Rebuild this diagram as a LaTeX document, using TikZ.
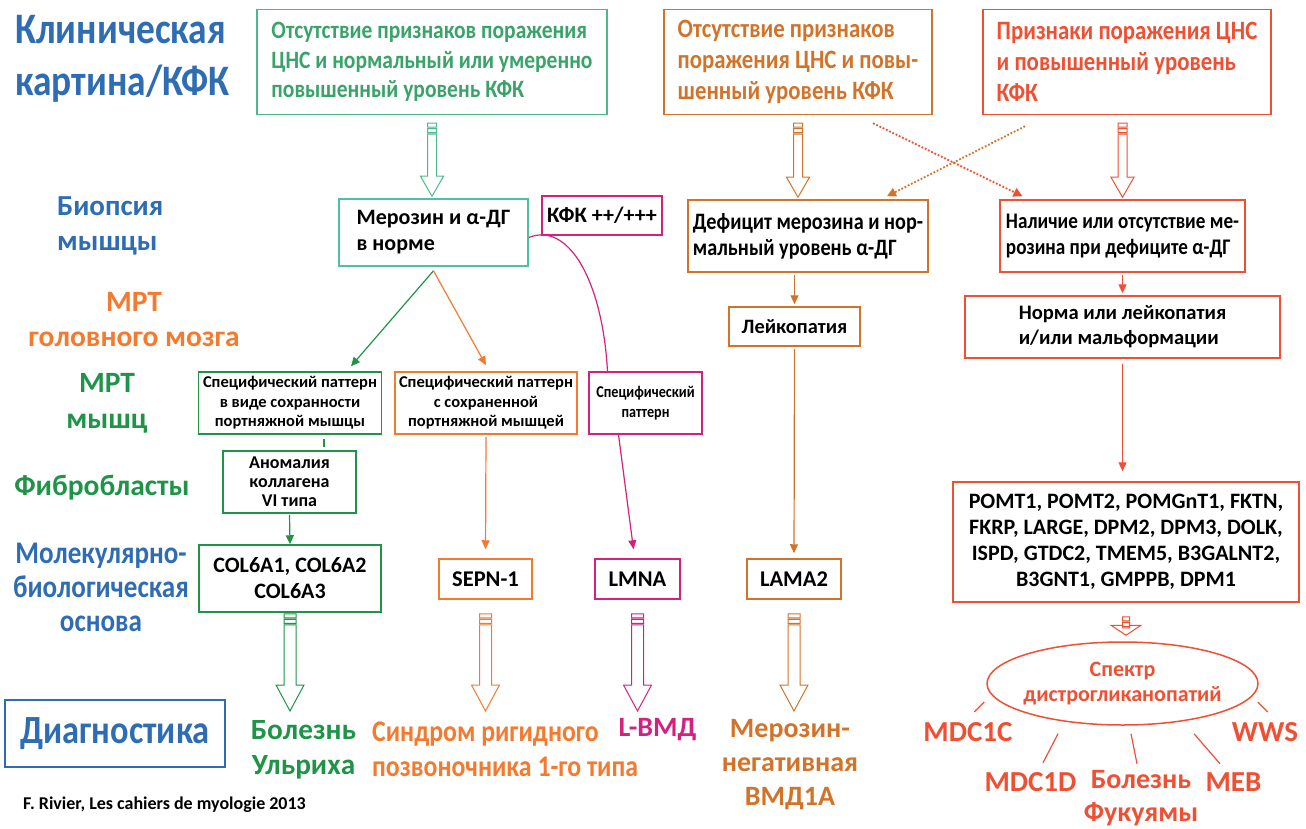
\documentclass[tikz,border=0pt]{standalone}
\usepackage{fontspec}
\setmainfont{Carlito}
\newfontfamily\narrowfont[FakeStretch=0.86]{Carlito}
\usetikzlibrary{arrows.meta,calc,shapes.geometric}

\definecolor{cblue}{HTML}{2E6DB4}
\definecolor{cgreentop}{HTML}{3AA36A}
\definecolor{ctealtop}{HTML}{4DB88A}
\definecolor{cteal}{HTML}{4EC1A3}
\definecolor{cgreen}{HTML}{1F9448}
\definecolor{corange}{HTML}{F47A2F}
\definecolor{cbrown}{HTML}{D2732A}
\definecolor{cred}{HTML}{EF4F33}
\definecolor{cmag}{HTML}{D4217F}

% font size + bold
\newcommand{\fsz}[2]{\fontsize{#1}{#2}\bfseries}
\newcommand{\nfsz}[2]{\narrowfont\fontsize{#1}{#2}\bfseries}

% hollow block arrow: colour, from, to, shaft half width, head half width, head length
\newcommand{\blockarrow}[6]{%
  \draw[#1, line width=1pt] let \p1=(#2), \p2=(#3) in
    (\x1-#4pt,\y1) rectangle (\x1+#4pt,\y1-4pt)
    (\x1-#4pt,\y1-5.5pt) rectangle (\x1+#4pt,\y1-9.5pt)
    (\x1-#4pt,\y1-11pt) -- (\x1-#4pt,\y2+#6pt) -- (\x1-#5pt,\y2+#6pt) -- (\x1,\y2)
    -- (\x1+#5pt,\y2+#6pt) -- (\x1+#4pt,\y2+#6pt) -- (\x1+#4pt,\y1-11pt) -- cycle;}

\begin{document}
\begin{tikzpicture}[x=1pt,y=-1pt,
  box/.style={draw, line width=1.5pt, inner sep=0pt, align=center},
  lbl/.style={inner sep=0pt, align=center},
  arr/.style={line width=1.2pt, -{Triangle[length=9pt,width=8pt]}},
  dots/.style={line width=1.8pt, dash pattern=on 1.8pt off 1.8pt, -{Triangle[length=9pt,width=9pt]}},
  spoke/.style={cred, line width=1.2pt}]

\useasboundingbox (0,0) rectangle (1306,829);

% left column
\node[lbl, text=cblue, anchor=west, align=left, font=\nfsz{43.5}{52}] (title) at (15,59) {Клиническая\\картина/КФК};
\node[lbl, text=cblue, anchor=west, align=left, font=\fsz{29}{35}] (biop) at (57,225.5) {Биопсия\\мышцы};
\node[lbl, text=corange, font=\fsz{29.5}{35}] (mrtb) at (134,320) {МРТ\\головного мозга};
\node[lbl, text=cgreen, font=\fsz{29.5}{36}] (mrtm) at (107,403.5) {МРТ\\мышц};
\node[lbl, text=cgreen, font=\fsz{29.5}{35}] (fibro) at (102,488) {Фибробласты};
\node[lbl, text=cblue, font=\nfsz{31.5}{34}] (molec) at (101,587) {Молекулярно-\\биологическая\\основа};
\node[box, draw=cblue, text=cblue, minimum width=220pt, minimum height=67pt, font=\nfsz{40}{44}] (diag) at (115,733.5) {Диагностика};
\node[lbl, anchor=west, font=\fsz{18}{20}] (src) at (23,805) {F. Rivier, Les cahiers de myologie 2013};

% top row
\node[box, draw=ctealtop, text=cgreentop, minimum width=350pt, minimum height=105pt, align=left, font=\nfsz{25}{29.5}] (topg) at (432,62) {Отсутствие признаков поражения\\ЦНС и нормальный или умеренно\\повышенный уровень КФК};
\node[box, draw=cbrown, text=cbrown, minimum width=268pt, minimum height=105pt, align=left, font=\nfsz{26.5}{31}] (topo) at (798,62) {Отсутствие признаков\\поражения ЦНС и повы-\\шенный уровень КФК};
\node[box, draw=cred, text=cred, minimum width=288pt, minimum height=105pt, align=left, font=\nfsz{26.5}{31}] (topr) at (1127,62) {Признаки поражения ЦНС\\и повышенный уровень\\КФК};

% biopsy
\node[box, draw=cteal, minimum width=189pt, minimum height=67pt, align=left, font=\fsz{22}{26}] (mero) at (433.5,232.5) {Мерозин и α-ДГ\\в норме};
\node[box, draw=cmag, minimum width=120pt, minimum height=39pt, font=\fsz{22}{24}] (kfk) at (602,215.5) {КФК ++/+++};
\node[box, draw=cbrown, minimum width=240pt, minimum height=72pt, align=left, font=\nfsz{23.5}{26}] (defic) at (808,236) {Дефицит мерозина и нор-\\мальный уровень α-ДГ};
\node[box, draw=cred, minimum width=245pt, minimum height=72pt, align=left, font=\nfsz{22.3}{26}] (nalich) at (1122.5,236) {Наличие или отсутствие ме-\\розина при дефиците α-ДГ};

% brain MRI
\node[box, draw=cbrown, minimum width=131pt, minimum height=39pt, font=\fsz{20.4}{24}] (leik) at (794.5,326.5) {Лейкопатия};
\node[box, draw=cred, minimum width=315pt, minimum height=62pt, align=left, font=\fsz{20.6}{25}] (norma) at (1122.5,327) {Норма или лейкопатия\\и/или мальформации};

% muscle MRI
\node[box, draw=cgreen, minimum width=183pt, minimum height=62pt, font=\fsz{16.5}{19.5}] (specg) at (290,403) {Специфический паттерн\\в виде сохранности\\портняжной мышцы};
\node[box, draw=corange, minimum width=182pt, minimum height=62pt, font=\fsz{16.5}{19.5}] (speco) at (486,403) {Специфический паттерн\\с сохраненной\\портняжной мышцей};
\node[box, draw=cmag, minimum width=113pt, minimum height=62pt, font=\nfsz{16.5}{20}] (specm) at (645.5,403) {Специфический\\паттерн};

% fibroblasts
\node[box, draw=cgreen, minimum width=133pt, minimum height=62pt, font=\fsz{18}{19}] (anom) at (289.5,482) {Аномалия\\коллагена\\VI типа};

% genes
\node[box, draw=cgreen, minimum width=182pt, minimum height=67pt, font=\fsz{22}{26}] (col) at (290,578.5) {COL6A1, COL6A2\\COL6A3};
\node[box, draw=corange, minimum width=93pt, minimum height=40pt, font=\fsz{22.5}{24}] (sepn) at (485.5,579) {SEPN-1};
\node[box, draw=cmag, minimum width=85pt, minimum height=40pt, font=\fsz{22.5}{24}] (lmna) at (637.5,579) {LMNA};
\node[box, draw=cbrown, minimum width=94pt, minimum height=40pt, font=\fsz{22.5}{24}] (lama) at (794,579) {LAMA2};
\node[box, draw=cred, minimum width=346pt, minimum height=120pt, font=\fsz{22}{26}] (genes) at (1126,542) {POMT1, POMT2, POMGnT1, FKTN,\\FKRP, LARGE, DPM2, DPM3, DOLK,\\ISPD, GTDC2, TMEM5, B3GALNT2,\\B3GNT1, GMPPB, DPM1};
\node[ellipse, draw=cred, line width=1.5pt, text=cred, inner xsep=-8pt, inner ysep=0pt, minimum width=271pt, minimum height=83pt, align=center, font=\fsz{22}{25}] (spec) at (1122.5,683.5) {Спектр\\дистрогликанопатий};

% diagnoses
\node[lbl, text=cgreen, font=\fsz{29.3}{35}] (ulr) at (303.5,749.5) {Болезнь\\Ульриха};
\node[lbl, text=corange, anchor=west, align=left, font=\nfsz{30}{35}] (rig) at (372,749.5) {Синдром ригидного\\позвоночника 1-го типа};
\node[lbl, text=cmag, font=\fsz{28}{35}] (lvmd) at (657.5,730) {L-ВМД};
\node[lbl, text=cbrown, font=\fsz{28}{34}] (mneg) at (790,764.5) {Мерозин-\\негативная\\ВМД1А};
\node[lbl, text=cred, font=\fsz{29}{35}] (mdc1c) at (968,732) {MDC1C};
\node[lbl, text=cred, font=\fsz{29}{35}] (wws) at (1265,732) {WWS};
\node[lbl, text=cred, font=\fsz{29}{35}] (mdc1d) at (1030.5,782) {MDC1D};
\node[lbl, text=cred, font=\fsz{28}{33}] (fuk) at (1141,798.5) {Болезнь\\Фукуямы};
\node[lbl, text=cred, font=\fsz{29}{35}] (meb) at (1233.5,782) {MEB};

% block arrows
\blockarrow{ctealtop}{[yshift=-8pt]topg.south}{[yshift=2pt]mero.north}{4.5}{11.5}{20}
\blockarrow{cbrown}{[yshift=-8pt]topo.south}{[yshift=2pt]defic.north}{4.5}{11.5}{20}
\blockarrow{cred}{$(topr.south -| nalich.north)+(0,8)$}{[yshift=2pt]nalich.north}{4.5}{11.5}{20}
\blockarrow{cgreen}{[yshift=-1pt]col.south}{[yshift=9pt]ulr.north}{6}{14}{26}
\blockarrow{corange}{[yshift=-14pt]sepn.south}{[yshift=9pt]ulr.north}{6}{14}{26}
\blockarrow{cmag}{[yshift=-14pt]lmna.south}{[yshift=9pt]ulr.north}{6}{14}{26}
\blockarrow{cbrown}{[yshift=-14pt]lama.south}{[yshift=9pt]ulr.north}{6}{14}{26}
\blockarrow{cred}{[yshift=-14pt]genes.south}{[yshift=6pt]spec.north}{3.5}{15}{10}

% dotted cross arrows
\draw[dots, cred] ([shift={(75,8)}]topo.south) -- ([shift={(-100,-3)}]nalich.north);
\draw[dots, cbrown] ([shift={(-102,11)}]topr.south) -- ([shift={(79,-3)}]defic.north);

% arrows
\draw[arr, cgreen] ([yshift=-4pt]mero.south) -- ([shift={(61,-5)}]specg.north);
\draw[arr, corange] ([yshift=-4pt]mero.south) -- ([yshift=6pt]speco.north);
\draw[cmag, line width=1.2pt] ([yshift=-5pt]mero.east) .. controls +(40,-16) and +(-5,-90) .. ([xshift=-38pt]specm.north);
\draw[cgreen, line width=1.2pt, shorten <=4pt, shorten >=3pt] ([xshift=34pt]specg.south) -- ([xshift=34.5pt]anom.north);
\draw[arr, cgreen, shorten <=1pt] (anom.south) -- (col.north);
\draw[arr, corange, shorten <=2pt, shorten >=9pt] (speco.south) -- (sepn.north);
\draw[arr, cmag] ([xshift=-27pt]specm.south) -- ([shift={(-4,-9)}]lmna.north);
\draw[arr, cbrown, shorten <=2pt, shorten >=2pt] (defic.south -| leik.north) -- (leik.north);
\draw[arr, cbrown, shorten <=2pt, shorten >=5pt] (leik.south) -- (lama.north);
\draw[arr, cred, shorten <=2pt, shorten >=2pt] (nalich.south) -- (norma.north);
\draw[arr, cred, shorten <=5pt, shorten >=10pt] (norma.south) -- (genes.north -| norma.south);

% spokes round the spectrum
\draw[spoke] ([shift={(-2,18.5)}]spec.west) -- ++(-10,10);
\draw[spoke] ([shift={(-1,18.5)}]spec.east) -- ++(10,10);
\draw[spoke] ([shift={(-64.5,8)}]spec.south) -- ++(-15,29);
\draw[spoke] ([shift={(8.5,8)}]spec.south) -- ++(6,30);
\draw[spoke] ([shift={(71.5,8)}]spec.south) -- ++(26,30);

\end{tikzpicture}
\end{document}
